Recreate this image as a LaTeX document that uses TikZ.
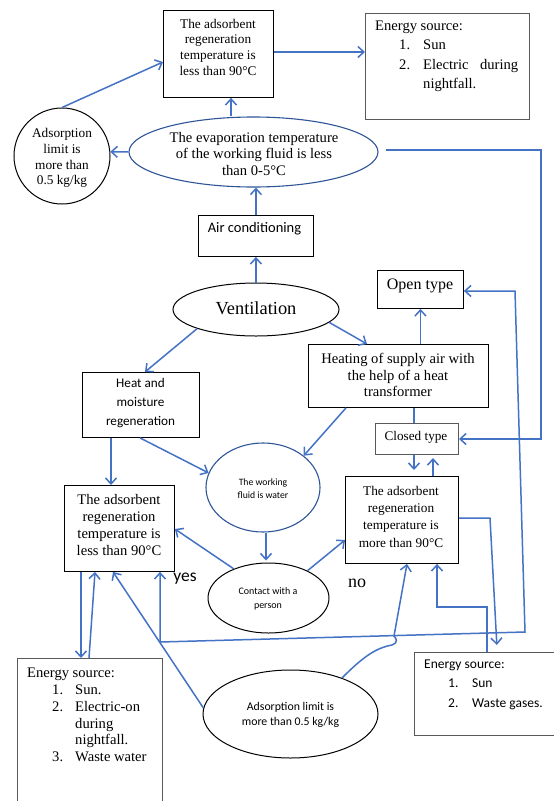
\documentclass[tikz,border=0pt]{standalone}
\usepackage{fontspec}
\setmainfont{Liberation Serif}
\newfontfamily\calfont{Carlito}
\usetikzlibrary{shapes.geometric,arrows.meta}
\definecolor{lnblue}{HTML}{4472C4}
\definecolor{elblue}{HTML}{2F5597}
\definecolor{bxgray}{HTML}{595959}
\begin{document}
\begin{tikzpicture}[x=1pt,y=-1pt,
  box/.style={draw=black,line width=0.9pt,inner sep=0,anchor=north west},
  gbox/.style={draw=bxgray,line width=1pt,inner sep=0,anchor=north west},
  ell/.style={ellipse,draw=black,line width=1pt,inner sep=0},
  bell/.style={ellipse,draw=elblue,line width=1.1pt,inner sep=0},
  txt/.style={inner sep=0,align=center},
  ln/.style={draw=lnblue,line width=1.5pt},
  arr/.style={ln,-{Straight Barb[length=6pt,width=11pt]}},
  arrb/.style={ln,{Straight Barb[length=6pt,width=11pt]}-{Straight Barb[length=6pt,width=11pt]}}
]
\useasboundingbox (0,0) rectangle (554,801);
\fill[white] (0,0) rectangle (554,801);

% boxes
\node[box,minimum width=110,minimum height=87] (b1) at (163,10) {};
\node[txt,font=\fontsize{13.3}{15.7}\selectfont] (b1t) at (218,47) {The adsorbent\\regeneration\\temperature is\\less than 90°C};

\node[gbox,minimum width=164,minimum height=106] (es1) at (365,13) {};
\node[inner sep=0,align=left,anchor=west,font=\fontsize{14.6}{19.5}\selectfont] (es1t) at (375,56.5)
 {Energy source:\\
  \hspace*{24pt}\makebox[24pt][l]{1.}Sun\\
  \hspace*{24pt}\makebox[24pt][l]{2.}\makebox[95pt][s]{Electric during}\\
  \hspace*{48pt}nightfall.};

\node[circle,draw=black,line width=1pt,minimum size=96,inner sep=0] (c1) at (62,156) {};
\node[txt,font=\fontsize{13.3}{15.7}\selectfont] (c1t) at (62,158) {Adsorption\\limit is\\more than\\0.5 kg/kg};

\node[bell,minimum width=249,minimum height=70] (ev) at (253.5,152) {};
\node[txt,font=\fontsize{14.6}{16.7}\selectfont] (evt) at (254,154) {The evaporation temperature\\of the working fluid is less\\than 0-5°C};

\node[box,minimum width=115,minimum height=41] (ac) at (198,215) {};
\node[txt,font=\calfont\fontsize{14.5}{17}\selectfont] (act) at (254.5,229) {Air conditioning};

\node[ell,minimum width=166,minimum height=53] (ve) at (256,309.5) {};
\node[txt,font=\fontsize{18.4}{21}\selectfont] (vet) at (256,308) {Ventilation};

\node[box,minimum width=86,minimum height=38] (op) at (377,270) {};
\node[txt,font=\fontsize{16}{18}\selectfont] (opt) at (420,285.5) {Open type};

\node[box,minimum width=180,minimum height=63] (he) at (308,344) {};
\node[txt,font=\fontsize{14.6}{16.7}\selectfont] (het) at (398,375) {Heating of supply air with\\the help of a heat\\transformer};

\node[box,minimum width=117,minimum height=65] (hm) at (82,372) {};
\node[txt,font=\calfont\fontsize{13.2}{19}\selectfont] (hmt) at (140.5,403) {Heat and\\moisture\\regeneration};

\node[gbox,minimum width=83,minimum height=31] (cl) at (375,423) {};
\node[txt,font=\fontsize{13.2}{15}\selectfont] (clt) at (416,437.5) {Closed type};

\node[bell,minimum width=114,minimum height=89] (wf) at (263,487.5) {};
\node[txt,font=\calfont\fontsize{9.7}{13}\selectfont] (wft) at (263,488.5) {The working\\fluid is water};

\node[box,minimum width=110,minimum height=86] (lb) at (64,485) {};
\node[txt,font=\fontsize{14.6}{17}\selectfont] (lbt) at (119,525) {The adsorbent\\regeneration\\temperature is\\less than 90°C};

\node[box,minimum width=113,minimum height=87] (mt) at (345,476) {};
\node[txt,font=\fontsize{13.3}{17.3}\selectfont] (mtt) at (401,516.5) {The adsorbent\\regeneration\\temperature is\\more than 90°C};

\node[ell,minimum width=121,minimum height=70] (ct) at (268.5,598) {};
\node[txt,font=\calfont\fontsize{10}{14}\selectfont] (ctt) at (268,599) {Contact with a\\person};

\node[txt,font=\calfont\fontsize{17.5}{20}\selectfont] (yes) at (185,579) {yes};
\node[txt,font=\fontsize{18}{20}\selectfont] (no) at (357,583) {no};

\node[gbox,minimum width=145,minimum height=160] (ebl) at (17,658) {};
\node[inner sep=0,align=left,anchor=west,font=\fontsize{14.6}{16.7}\selectfont] (eblt) at (27,715)
 {Energy source:\\
  \hspace*{25pt}\makebox[23pt][l]{1.}Sun.\\
  \hspace*{25pt}\makebox[23pt][l]{2.}Electric-on\\
  \hspace*{48pt}during\\
  \hspace*{48pt}nightfall.\\
  \hspace*{25pt}\makebox[23pt][l]{3.}Waste water};

\node[ell,minimum width=175,minimum height=88] (be) at (290.5,714) {};
\node[txt,font=\calfont\fontsize{11.8}{15}\selectfont] (bet) at (290.5,715) {Adsorption limit is\\more than 0.5 kg/kg};

\node[gbox,minimum width=150,minimum height=83] (ebr) at (414,652) {};
\node[inner sep=0,align=left,anchor=west,font=\calfont\fontsize{13.5}{19.5}\selectfont] (ebrt) at (424,684.5)
 {Energy source:\\
  \hspace*{24pt}\makebox[24pt][l]{1.}Sun\\
  \hspace*{24pt}\makebox[24pt][l]{2.}Waste gases.};

% bend coordinates
\coordinate (e1) at (541,150);
\coordinate (t1) at (490,518);
\coordinate (t2) at (497,648);
\coordinate (u1) at (487,607);
\coordinate (u2) at (437,607);
\coordinate (v1) at (515,291);
\coordinate (v2) at (525,632);
\coordinate (v3) at (160,642);
\coordinate (w1) at (392,645);
\coordinate (w2) at (394,636);

% connectors
\draw[arr] (c1.north) -- (b1.west |- 0,62);
\draw[arr] (b1.east |- 0,52) -- (es1.west |- 0,52);
\draw[arr] (ev.north -| 231,0) -- (b1.south -| 231,0);
\draw[arr] (ev.west) -- (c1.5);
\draw[arr] ([shift={(7,-2)}]ev.east) -- (e1) |- (cl.east);
\draw[arr] (ac.north) -- (ac.north |- ev.south);
\draw[arr] (ac.south |- ve.north) -- (ac.south);
\draw[arr] (ve.198) -- ([xshift=4pt]hm.north);
\draw[arr] (ve.-10) -- (he.north -| 367,0);
\draw[arr] (op.south |- he.north) -- (op.south);
\draw[ln] (he.south -| 414,0) -- (cl.north -| 414,0);
\draw[arr] (he.south -| 346,0) -- (wf.38);
\draw[arr] (hm.south -| 111,0) -- (lb.north -| 111,0);
\draw[arr] (hm.south -| 140,0) -- (wf.165);
\draw[arr,shorten >=6pt] (cl.south -| 414,0) -- (mt.north -| 414,0);
\draw[arr,shorten >=3pt] (mt.north -| 433,0) -- (cl.south -| 433,0);
\draw[arr,shorten >=2pt] (wf.south -| 266,0) -- (ct.north -| 266,0);
\draw[arr] (ct.140) -- (lb.east |- 0,529);
\draw[arr] (ct.35) -- (mt.west |- 0,540);
\draw[arr,shorten >=3pt] (mt.east |- t1) -- (t1) -- (t2);
\draw[arr] (ebr.north -| u1) -- (u1) -- (u2) -- (mt.south -| u2);
\draw[arrb] (op.east |- v1) -- (v1) -- (v2) -- (v3) -- (lb.south -| v3);
\draw[arr] (be.35) .. controls (362,658) and (375,648) .. (w1) .. controls (398,643) and (397,639) .. (w2) -- (mt.south -| 407,0);
\draw[arr] (be.176) -- (lb.south -| 113,0);
\draw[arr] (lb.south -| 81,0) -- (ebl.north -| 81,0);
\draw[arr] (ebl.north -| 89,0) -- (lb.south -| 95,0);
\end{tikzpicture}
\end{document}
